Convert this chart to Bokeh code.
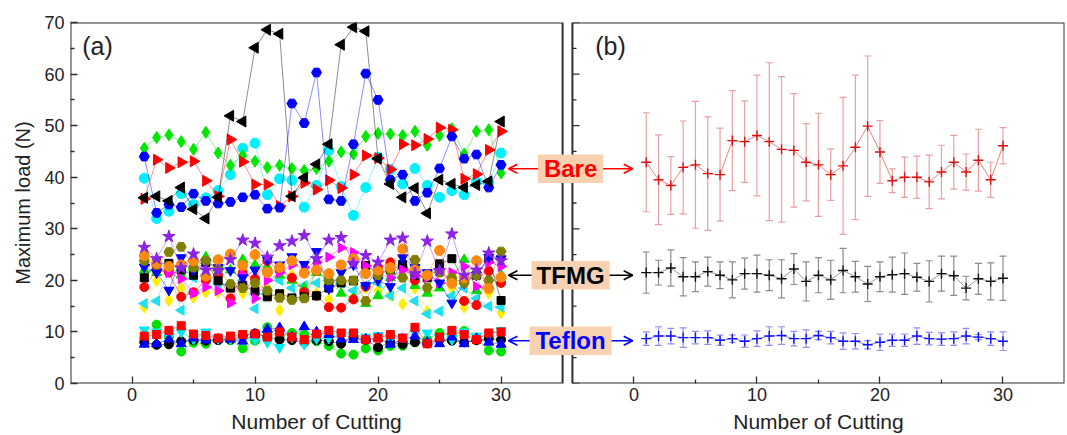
import numpy as np
from bokeh.plotting import figure
from bokeh.models import (Range1d, FixedTicker, BoxAnnotation, Label, Arrow, OpenHead,
                          Whisker, TeeHead, ColumnDataSource, LinearAxis)
from bokeh.embed import file_html
from bokeh.resources import INLINE

cuts = list(range(1, 31))
x_ticks = [0, 10, 20, 30]
x_minor = [5, 15, 25]
y_major = list(range(0, 71, 10))
y_minor = list(range(5, 70, 10))

# ---------------- panel (a): Bare ----------------
bare_black = [36.0, 36.3, 35.4, 38.0, 33.8, 32.0, 36.1, 51.9, 50.8, 65.1, 68.6, 67.8, 36.3, 39.9, 42.5,
              46.4, 65.7, 69.1, 68.3, 43.6, 38.7, 36.1, 37.9, 33.0, 39.5, 38.7, 38.0, 38.5, 39.2, 50.8]
bare_blue = [44.0, 33.1, 34.7, 34.2, 36.8, 35.4, 34.9, 35.2, 36.1, 36.6, 33.9, 34.1, 54.3, 50.5, 60.3,
             35.7, 35.4, 46.4, 60.1, 55.0, 39.5, 40.5, 35.4, 37.0, 41.7, 47.9, 43.6, 44.4, 38.0, 42.4]
bare_red = [35.8, 43.4, 41.8, 42.9, 43.1, 39.3, 36.3, 47.3, 43.0, 38.6, 38.6, 34.4, 36.3, 38.9, 37.6,
            39.4, 37.9, 40.5, 44.2, 43.7, 41.5, 46.4, 46.2, 47.4, 49.6, 49.2, 39.7, 40.6, 45.3, 48.9]
bare_green = [45.6, 47.7, 48.2, 46.9, 45.4, 48.7, 44.7, 42.3, 44.2, 43.1, 41.9, 42.3, 41.7, 41.3, 41.7,
              43.1, 44.9, 44.5, 47.9, 48.5, 48.4, 48.1, 48.9, 46.2, 48.1, 49.4, 44.5, 48.9, 49.2, 40.8]
bare_cyan = [39.8, 32.0, 33.4, 36.8, 34.7, 36.0, 37.4, 40.5, 45.6, 46.6, 36.6, 39.7, 39.4, 34.2, 38.4,
             45.2, 38.2, 32.6, 38.0, 43.8, 41.5, 38.7, 41.7, 38.4, 36.1, 37.4, 36.6, 39.2, 38.9, 44.7]

# ---------------- panel (a): TFMG ----------------
tfmg_purple = [26.4, 24.2, 28.5, 22.4, 25.1, 22.0, 21.9, 24.0, 27.8, 27.2, 24.5, 26.7, 27.6, 28.7, 24.2,
               27.8, 28.3, 23.3, 24.8, 23.5, 27.8, 28.2, 21.3, 27.6, 21.9, 29.0, 21.0, 22.0, 25.3, 23.8]
tfmg_black = [20.5, 23.3, 23.3, 22.0, 21.0, 23.5, 19.9, 18.5, 19.0, 17.9, 16.8, 17.4, 16.6, 16.8, 17.0,
              18.5, 19.5, 19.9, 22.9, 21.5, 22.0, 23.1, 21.0, 20.5, 23.2, 24.2, 20.0, 21.0, 24.2, 16.1]
tfmg_red = [18.7, 22.0, 21.5, 16.8, 17.7, 20.0, 21.0, 16.5, 21.5, 20.3, 23.8, 21.9, 20.5, 17.7, 17.0,
            14.8, 14.7, 16.3, 18.8, 22.5, 23.5, 22.5, 20.0, 21.0, 22.0, 19.5, 16.0, 15.2, 21.8, 19.5]
tfmg_blue = [22.6, 21.5, 18.1, 24.4, 22.0, 23.5, 22.5, 21.9, 20.5, 22.0, 24.0, 23.0, 24.6, 23.1, 25.6,
             18.4, 21.5, 23.0, 19.0, 20.0, 18.8, 24.4, 22.5, 21.5, 19.5, 15.6, 19.5, 21.0, 24.5, 24.2]
tfmg_green = [22.0, 21.5, 22.5, 21.0, 22.5, 24.5, 23.0, 22.0, 24.0, 23.0, 22.5, 21.0, 20.0, 18.5, 21.5,
              20.0, 17.5, 16.5, 15.5, 17.0, 20.5, 21.0, 19.0, 17.5, 18.5, 20.5, 24.0, 18.0, 19.0, 21.0]
tfmg_magenta = [23.0, 22.2, 21.5, 20.3, 17.5, 18.7, 18.0, 15.6, 21.0, 16.5, 20.0, 21.5, 23.0, 22.5, 23.5,
                24.5, 26.3, 25.4, 22.8, 21.5, 20.5, 22.0, 21.0, 20.5, 19.5, 21.5, 22.7, 18.8, 23.5, 22.7]
tfmg_cyan = [15.5, 16.0, 22.0, 14.2, 20.5, 21.0, 19.5, 19.0, 20.0, 14.5, 17.5, 20.0, 18.5, 19.0, 19.5,
             20.5, 19.5, 18.0, 19.0, 19.5, 17.0, 18.5, 16.0, 13.5, 14.0, 17.0, 18.5, 16.5, 15.0, 14.8]
tfmg_olive = [23.8, 23.0, 25.5, 26.5, 22.5, 23.8, 22.0, 19.3, 18.5, 19.5, 18.0, 16.6, 16.2, 16.5, 21.8,
              20.0, 20.0, 20.0, 16.0, 21.0, 22.0, 20.5, 24.0, 18.6, 21.5, 20.5, 19.5, 21.0, 20.0, 25.6]
tfmg_orange = [24.8, 23.3, 22.7, 23.0, 23.8, 20.8, 24.0, 25.1, 22.9, 25.0, 21.5, 22.5, 23.8, 21.4, 22.0,
               21.3, 23.0, 24.2, 21.3, 22.0, 22.5, 26.1, 22.0, 21.0, 25.8, 19.4, 20.5, 23.8, 18.4, 20.6]
tfmg_yellow = [14.8, 20.0, 16.1, 18.5, 16.7, 17.7, 17.7, 18.5, 17.5, 19.0, 18.5, 14.2, 21.0, 18.0, 17.5,
               16.3, 21.9, 16.8, 18.5, 18.0, 17.1, 15.4, 18.5, 13.9, 22.2, 18.5, 14.8, 21.0, 17.5, 13.7]

# ---------------- panel (a): Teflon ----------------
tef_red = [9.2, 9.5, 10.3, 11.2, 9.6, 9.3, 8.8, 9.2, 9.5, 9.6, 9.0, 10.0, 9.0, 8.5, 9.6,
           10.3, 9.8, 9.8, 8.5, 8.8, 9.5, 8.8, 10.9, 7.7, 9.0, 10.3, 9.5, 8.5, 9.8, 10.0]
tef_black = [8.0, 7.5, 7.6, 8.2, 8.4, 8.3, 8.4, 8.5, 9.2, 9.7, 9.0, 8.5, 8.4, 8.0, 8.4,
             8.2, 7.7, 9.0, 8.5, 7.0, 8.0, 7.6, 8.0, 7.8, 8.5, 8.3, 8.0, 8.4, 8.7, 8.5]
tef_blue = [7.6, 7.7, 8.6, 7.7, 8.8, 8.4, 8.6, 8.6, 8.2, 9.5, 10.5, 10.8, 9.0, 11.0, 10.0,
            9.5, 8.6, 8.5, 8.6, 8.8, 7.6, 8.6, 9.2, 8.0, 7.7, 9.0, 7.7, 8.7, 8.0, 7.6]
tef_cyan = [10.4, 10.0, 9.1, 10.0, 8.6, 10.0, 8.7, 8.6, 8.4, 8.5, 8.0, 7.0, 9.0, 7.6, 8.7,
            8.8, 9.6, 9.4, 9.0, 9.3, 8.8, 9.0, 9.8, 9.8, 9.0, 8.5, 10.0, 9.2, 9.5, 10.3]
tef_green = [8.7, 11.4, 9.0, 6.2, 7.9, 7.7, 8.5, 8.4, 6.8, 8.3, 10.9, 9.0, 9.8, 9.5, 8.2,
             7.3, 5.8, 5.6, 6.8, 6.4, 7.3, 7.3, 8.0, 8.5, 9.8, 9.3, 10.2, 8.8, 6.4, 6.2]

# ---------------- panel (b): mean +/- error ----------------
bare_mean = [42.9, 39.5, 38.4, 41.9, 42.4, 40.7, 40.5, 47.1, 46.9, 48.1, 46.9, 45.4, 45.2, 42.9, 42.4,
             40.5, 42.2, 45.8, 49.9, 44.9, 39.3, 40.0, 40.0, 39.1, 41.0, 42.9, 41.0, 43.3, 39.5, 46.1]
bare_err = [9.6, 8.7, 5.6, 9.0, 12.3, 11.0, 9.0, 9.7, 7.9, 11.7, 15.3, 14.1, 11.0, 7.5, 10.0,
            5.0, 13.3, 14.0, 13.6, 6.1, 2.3, 3.9, 4.1, 5.2, 5.2, 5.2, 3.5, 6.0, 3.4, 3.5]
tfmg_mean = [21.5, 21.5, 22.4, 20.7, 20.7, 21.7, 21.0, 20.1, 21.3, 21.3, 21.0, 20.3, 22.2, 19.8, 21.0,
             20.1, 21.9, 20.7, 19.3, 20.7, 21.1, 21.3, 20.6, 19.8, 21.3, 20.9, 18.5, 20.3, 19.8, 20.4]
tfmg_err = [4.0, 2.4, 3.5, 3.7, 2.9, 2.8, 2.6, 3.5, 3.0, 3.6, 3.0, 3.7, 3.0, 3.8, 3.4,
            3.8, 4.3, 3.0, 3.4, 2.9, 3.4, 4.0, 2.7, 4.0, 3.4, 3.8, 2.3, 3.0, 3.6, 4.3]
tef_mean = [8.7, 9.2, 9.2, 8.9, 8.9, 8.9, 8.4, 8.7, 8.2, 8.7, 9.2, 9.3, 8.7, 8.7, 9.3,
            8.9, 8.2, 8.2, 7.5, 8.0, 8.4, 8.4, 9.2, 8.7, 8.6, 8.7, 9.2, 9.0, 8.7, 8.2]
tef_err = [1.3, 1.8, 1.5, 1.9, 1.2, 1.3, 1.0, 0.7, 1.2, 1.5, 1.8, 1.7, 1.4, 1.7, 0.8,
           1.2, 1.6, 1.5, 0.8, 1.6, 1.2, 1.2, 1.6, 1.2, 1.2, 1.3, 1.5, 0.5, 1.3, 1.8]

FONT = "Liberation Sans"
FRAME = "#2e2e2e"
TXT = "#222222"
RIGHT_OFFSET = 40.8  # right panel placed in the same canvas, shifted

p = figure(width=1067, height=435, x_range=Range1d(-5, 35 + RIGHT_OFFSET), y_range=Range1d(0, 70),
           output_backend="svg", toolbar_location=None,
           min_border_left=70, min_border_right=3, min_border_top=22, min_border_bottom=50)
p.extra_x_ranges = {"right": Range1d(-5 - RIGHT_OFFSET, 35)}
p.outline_line_color = None
p.grid.visible = False
p.background_fill_color = "white"
p.border_fill_color = "white"

# axes
xa = p.xaxis[0]
xa.ticker = FixedTicker(ticks=x_ticks + [t + RIGHT_OFFSET for t in x_ticks],
                        minor_ticks=x_minor + [t + RIGHT_OFFSET for t in x_minor])
xa.major_label_overrides = {t + RIGHT_OFFSET: str(t) for t in x_ticks}
ya = p.yaxis[0]
ya.ticker = FixedTicker(ticks=y_major, minor_ticks=y_minor)
ya.axis_label = "Maximum load (N)"
for ax in (xa, ya):
    ax.axis_line_color = None
    ax.major_tick_in = 7
    ax.major_tick_out = 0
    ax.minor_tick_in = 4
    ax.minor_tick_out = 0
    ax.major_tick_line_color = FRAME
    ax.minor_tick_line_color = FRAME
    ax.major_tick_line_width = 1.3
    ax.minor_tick_line_width = 1.3
    ax.major_label_text_font = FONT
    ax.major_label_text_font_size = "18px"
    ax.major_label_text_color = TXT
    ax.major_label_standoff = 6
xa.major_label_standoff = 4
ya.axis_label_text_font = FONT
ya.axis_label_text_font_size = "20px"
ya.axis_label_text_font_style = "normal"
ya.axis_label_text_color = TXT
ya.axis_label_standoff = 7

# axis titles below each panel (one label centred under each panel)
title_centers = [15, 15 + RIGHT_OFFSET]
xt = LinearAxis(ticker=FixedTicker(ticks=title_centers, minor_ticks=[]),
                major_label_overrides={c: "Number of Cutting" for c in title_centers},
                axis_line_color=None, major_tick_line_color=None, minor_tick_line_color=None,
                major_label_text_font=FONT, major_label_text_font_size="21px",
                major_label_text_color=TXT, major_label_standoff=0)
p.add_layout(xt, "below")

# panel frames
for l, r in [(-5, 35), (-5 + RIGHT_OFFSET, 35 + RIGHT_OFFSET)]:
    p.add_layout(BoxAnnotation(left=l, right=r, bottom=0, top=70, fill_color=None,
                               line_color=FRAME, line_width=2.0, line_alpha=1.0))

# right panel y ticks
p.segment(x0=[-5] * len(y_major), x1=[-5 + 0.58] * len(y_major), y0=y_major, y1=y_major,
          x_range_name="right", line_color=FRAME, line_width=1.3)
p.segment(x0=[-5] * len(y_minor), x1=[-5 + 0.33] * len(y_minor), y0=y_minor, y1=y_minor,
          x_range_name="right", line_color=FRAME, line_width=1.3)

LEFT = np.pi / 2
RIGHT = -np.pi / 2
series = [
    # Teflon
    (tef_green, "circle", "#00e000", 0, 9),
    (tef_black, "circle", "#000000", 0, 9),
    (tef_cyan, "inverted_triangle", "#00e8f0", 0, 10),
    (tef_blue, "triangle", "#0000ff", 0, 10),
    (tef_red, "square", "#ff0000", 0, 8),
    # TFMG
    (tfmg_yellow, "diamond", "#ffee00", 0, 12),
    (tfmg_cyan, "triangle", "#20e0f0", LEFT, 10),
    (tfmg_green, "triangle", "#00e000", 0, 10),
    (tfmg_red, "circle", "#ff0000", 0, 9),
    (tfmg_black, "square", "#000000", 0, 8),
    (tfmg_magenta, "triangle", "#ff00ff", RIGHT, 10),
    (tfmg_blue, "inverted_triangle", "#0000ff", 0, 10),
    (tfmg_olive, "hex", "#808000", 0, 10),
    (tfmg_orange, "circle", "#ff8a10", 0, 10),
    (tfmg_purple, "star", "#8a22e8", 0, 13),
    # Bare
    (bare_cyan, "circle", "#00f0ff", 0, 10),
    (bare_green, "diamond", "#00e800", 0, 12),
    (bare_red, "triangle", "#ff0000", RIGHT, 11),
    (bare_blue, "hex", "#0000ff", 0, 10),
    (bare_black, "triangle", "#000000", LEFT, 11),
]
for vals, mk, col, ang, sz in series:
    p.line(cuts, vals, line_color=col, line_alpha=0.45, line_width=1)
    p.scatter(cuts, vals, marker=mk, angle=ang, size=sz, fill_color=col, line_color=col)

# panel (b)
groups = [
    (bare_mean, bare_err, "#e05050", "#e8a0a0", "#e01010"),
    (tfmg_mean, tfmg_err, "#707070", "#8c8c8c", "#101010"),
    (tef_mean, tef_err, "#5050ff", "#9090f0", "#1010ff"),
]
for mean, err, lc, ec, mc in groups:
    src = ColumnDataSource(dict(x=cuts, m=mean,
                                up=[a + b for a, b in zip(mean, err)],
                                lo=[a - b for a, b in zip(mean, err)]))
    p.add_layout(Whisker(source=src, base="x", upper="up", lower="lo", x_range_name="right",
                         line_color=ec, line_width=1.2,
                         upper_head=TeeHead(size=7, line_color=ec, line_width=1.2),
                         lower_head=TeeHead(size=7, line_color=ec, line_width=1.2)))
    p.line("x", "m", source=src, x_range_name="right", line_color=lc, line_alpha=0.7, line_width=1)
    p.scatter("x", "m", source=src, x_range_name="right", marker="cross", size=10,
              line_color=mc, line_width=1.4)

# panel letters
p.add_layout(Label(x=-4.05, y=65.5, text="(a)", text_font=FONT, text_font_size="25px",
                   text_color=TXT, text_baseline="middle"))
p.add_layout(Label(x=-3.15, y=65.5, text="(b)", text_font=FONT, text_font_size="25px",
                   text_color=TXT, text_baseline="middle", x_range_name="right"))

# group tags with arrows
PEACH = "#f8d2b0"
tags = [("Bare", "#ff0000", 41.65, 2.65), ("TFMG", "#000000", 21.0, 3.17), ("Teflon", "#0000ff", 8.3, 3.33)]
cxm = 35.65
for txt, col, yc, hw in tags:
    p.add_layout(BoxAnnotation(left=cxm - hw, right=cxm + hw, bottom=yc - 2.75, top=yc + 2.75,
                               fill_color=PEACH, fill_alpha=1.0, line_color=None))
    p.add_layout(Label(x=cxm, y=yc, text=txt, text_font=FONT, text_font_size="24px",
                       text_font_style="bold", text_color=col, text_align="center",
                       text_baseline="middle"))
    p.add_layout(Arrow(x_start=cxm - hw, y_start=yc, x_end=30.6, y_end=yc,
                       line_color=col, line_width=1.6,
                       end=OpenHead(size=9, line_color=col, line_width=1.6)))
    p.add_layout(Arrow(x_start=cxm + hw, y_start=yc, x_end=RIGHT_OFFSET - 0.1, y_end=yc,
                       line_color=col, line_width=1.6,
                       end=OpenHead(size=9, line_color=col, line_width=1.6)))

open("out.html", "w").write(file_html(p, INLINE))
